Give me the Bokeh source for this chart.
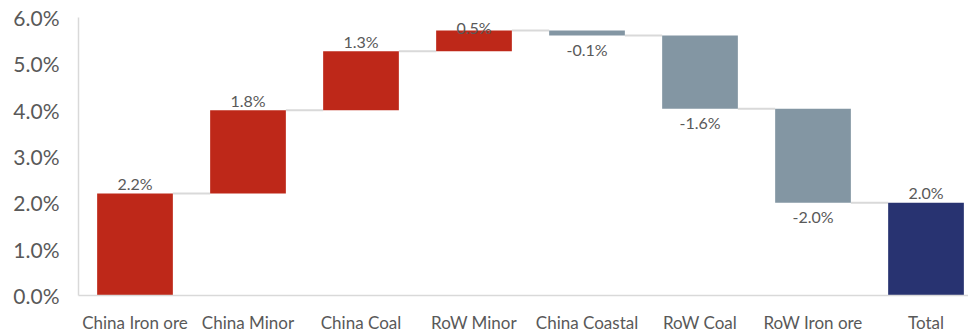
from bokeh.plotting import figure
from bokeh.models import ColumnDataSource, Range1d, FixedTicker
from bokeh.core.properties import value
from bokeh.embed import file_html
from bokeh.resources import INLINE

categories = ["China Iron ore", "China Minor", "China Coal", "RoW Minor",
              "China Coastal", "RoW Coal", "RoW Iron ore", "Total"]
changes = [2.2, 1.8, 1.27, 0.45, -0.11, -1.58, -2.03]
value_labels = ["2.2%", "1.8%", "1.3%", "0.5%", "-0.1%", "-1.6%", "-2.0%", "2.0%"]
y_ticks = [0, 1, 2, 3, 4, 5, 6]

RED = "#BE2819"
GREY = "#8396A3"
NAVY = "#283371"
TXT = "#595959"
LINE = "#D9D9D9"
FONT = "Lato"
Y_MAX = 6.0

# waterfall geometry
xs, bottoms, tops, colors = [], [], [], []
level = 0.0
for i, c in enumerate(changes):
    start, end = level, level + c
    xs.append(i + 0.5)
    bottoms.append(min(start, end))
    tops.append(max(start, end))
    colors.append(RED if c >= 0 else GREY)
    level = end
total = level
xs.append(len(changes) + 0.5)
bottoms.append(0.0)
tops.append(total)
colors.append(NAVY)

signs = [1 if c >= 0 else -1 for c in changes] + [1]
# labels above positive bars (kept inside the plot area), below negative bars
ly = [min(t, Y_MAX - 0.43) if s > 0 else b for t, b, s in zip(tops, bottoms, signs)]
loff = [-10 if s > 0 else 14 for s in signs]

src = ColumnDataSource(dict(x=xs, bottom=bottoms, top=tops, color=colors,
                            label=value_labels, ly=ly, loff=loff))

BW = 0.67
# connectors
levels = []
lv = 0.0
for c in changes:
    lv += c
    levels.append(lv)
cx0 = [x + BW / 2 for x in xs[:-1]]
cx1 = [x - BW / 2 for x in xs[1:]]
csrc = ColumnDataSource(dict(x0=cx0, x1=cx1, y=levels))

p = figure(width=968, height=335, output_backend="svg", toolbar_location=None,
           x_range=Range1d(0, 7.876), y_range=Range1d(0, Y_MAX),
           min_border_left=78, min_border_right=0, min_border_top=17,
           min_border_bottom=39)
p.outline_line_color = None
p.xgrid.grid_line_color = None
p.ygrid.grid_line_color = None
p.background_fill_color = "white"
p.border_fill_color = "white"

p.segment(x0="x0", y0="y", x1="x1", y1="y", source=csrc,
          line_color=LINE, line_width=2)
p.vbar(x="x", width=BW, bottom="bottom", top="top", fill_color="color",
       line_color=None, source=src)
p.text(x="x", y="ly", text="label", y_offset="loff", source=src,
       text_align="center", text_baseline="middle",
       text_font=value(FONT), text_font_size="16px", text_color=TXT)

ya = p.yaxis[0]
ya.ticker = FixedTicker(ticks=y_ticks)
ya.major_label_overrides = {t: f"{t:.1f}%" for t in y_ticks}
ya.major_tick_line_color = None
ya.minor_tick_line_color = None
ya.axis_line_color = LINE
ya.axis_line_width = 1.5
ya.major_label_text_font = FONT
ya.major_label_text_font_size = "21px"
ya.major_label_text_color = TXT
ya.major_label_standoff = 13

xa = p.xaxis[0]
xa.ticker = FixedTicker(ticks=xs)
xa.major_label_overrides = {x: c for x, c in zip(xs, categories)}
xa.major_tick_line_color = None
xa.minor_tick_line_color = None
xa.axis_line_color = LINE
xa.axis_line_width = 1.5
xa.major_label_text_font = FONT
xa.major_label_text_font_size = "17px"
xa.major_label_text_color = TXT
xa.major_label_standoff = 10

open("out.html", "w").write(file_html(p, INLINE))
